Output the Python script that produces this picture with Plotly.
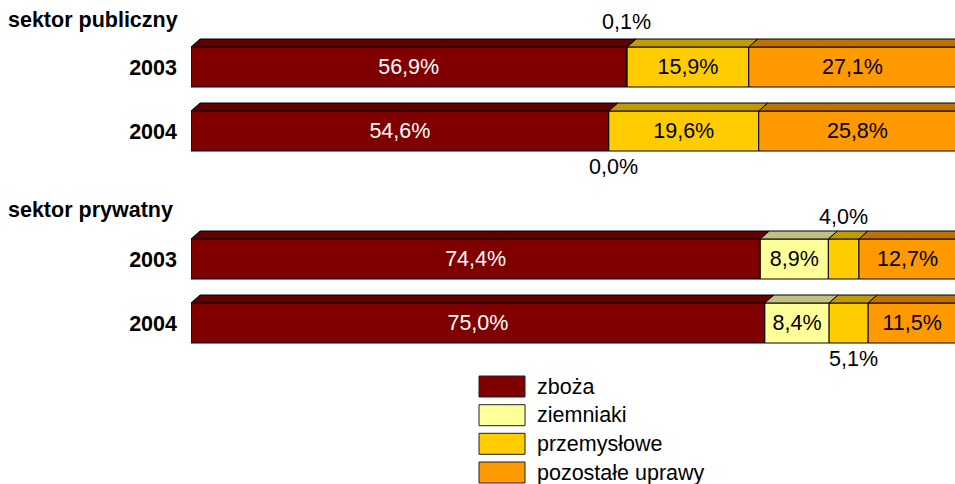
import plotly.graph_objects as go

# ---------------- data ----------------
groups = ["sektor publiczny", "sektor prywatny"]
years = ["2003", "2004", "2003", "2004"]
row_pos = [0, 1, 3, 4]
series_names = ["zboża", "ziemniaki", "przemysłowe", "pozostałe uprawy"]
zboza = [56.9, 54.6, 74.4, 75.0]
ziemniaki = [0.1, 0.0, 8.9, 8.4]
przemyslowe = [15.9, 19.6, 4.0, 5.1]
pozostale = [27.1, 25.8, 12.7, 11.5]

# ---------------- style ----------------
FONT = "Liberation Sans, Arial, sans-serif"
front_colors = ["#800000", "#FFFF99", "#FFCC00", "#FF9900"]
top_colors = ["#600000", "#C0C080", "#C09A00", "#C07200"]
text_colors = ["white", "black", "black", "black"]
BAR_W = 0.625
DX = 1.18   # depth in x units
DY = 0.125  # depth in y units
W, H = 955, 484
L = 191
PX_PER_UNIT = 7.64      # pixels per percent
X_END = (W - L) / PX_PER_UNIT - 0.15
Y0 = 67                 # pixel center of first row
UNIT = 64               # pixels per row unit
FS = 21.5

all_series = [zboza, ziemniaki, przemyslowe, pozostale]

def fmt(v):
    return f"{v:.1f}".replace(".", ",") + "%"

def px_x(p):  # page pixel -> paper x
    return (p - L) / (W - L)

def px_y(p):  # page pixel -> paper y
    return (H - p) / H

fig = go.Figure()
cum = [0.0] * len(row_pos)
annotations = []
for si, vals in enumerate(all_series):
    texts = []
    for j, v in enumerate(vals):
        if v >= 6:
            texts.append(fmt(v))
        else:
            texts.append("")
            xc = cum[j] + v / 2
            if years[j] == "2003":
                off = -0.71 if row_pos[j] == 0 else -0.66
                dxl = 0.0
            else:
                off = 0.56
                dxl = 0.6
            annotations.append(dict(x=xc + dxl, y=row_pos[j] + off, xref="x", yref="y",
                                    text=fmt(v), showarrow=False,
                                    font=dict(family=FONT, size=FS, color="black")))
    fig.add_trace(go.Bar(
        y=row_pos, x=vals, base=cum[:], orientation="h", width=BAR_W,
        marker=dict(color=front_colors[si], line=dict(color="black", width=1)),
        text=texts, textposition="inside", insidetextanchor="middle",
        textangle=0, constraintext="none",
        textfont=dict(family=FONT, size=FS, color=text_colors[si]),
        name=series_names[si], showlegend=False, hoverinfo="skip"))
    # top faces
    xs, ys = [], []
    for j, v in enumerate(vals):
        x0 = cum[j]
        x1 = cum[j] + v
        yt = row_pos[j] - BAR_W / 2
        xs += [x0, x1, x1 + DX, x0 + DX, x0, None]
        ys += [yt, yt, yt - DY, yt - DY, yt, None]
    fig.add_trace(go.Scatter(
        x=xs, y=ys, mode="lines", fill="toself", fillcolor=top_colors[si],
        line=dict(color="black", width=1), showlegend=False, hoverinfo="skip"))
    cum = [c + v for c, v in zip(cum, vals)]

# group labels
group_y = [-0.734, 2.234]
for g, gy in zip(groups, group_y):
    annotations.append(dict(x=px_x(6), y=gy, xref="paper", yref="y",
                            xanchor="left", text=f"<b>{g}</b>", showarrow=False,
                            font=dict(family=FONT, size=FS, color="black")))

# custom legend
shapes = []
box_tops = [376, 404.7, 433.3, 462]
for si, name in enumerate(series_names):
    t = box_tops[si]
    shapes.append(dict(type="rect", xref="paper", yref="paper",
                       x0=px_x(479), x1=px_x(525),
                       y0=px_y(t), y1=px_y(t + 21),
                       fillcolor=front_colors[si], line=dict(color="#202020", width=1)))
    annotations.append(dict(x=px_x(535), y=px_y(t + 10.5),
                            xref="paper", yref="paper", xanchor="left", yanchor="middle",
                            text=name, showarrow=False,
                            font=dict(family=FONT, size=FS, color="black")))

fig.update_layout(
    width=W, height=H,
    margin=dict(l=L, r=0, t=0, b=0),
    barmode="overlay",
    plot_bgcolor="white", paper_bgcolor="white",
    xaxis=dict(range=[0, X_END], visible=False, fixedrange=True),
    yaxis=dict(range=[(H - Y0) / UNIT, -Y0 / UNIT], tickvals=row_pos,
               ticktext=[f"<b>{y}</b>" for y in years], ticks="",
               ticklabelstandoff=13, fixedrange=True,
               showgrid=False, zeroline=False, showline=False,
               tickfont=dict(family=FONT, size=FS, color="black")),
    annotations=annotations, shapes=shapes,
    showlegend=False,
)

fig.write_html("out.html", config={"displayModeBar": False},
               post_script="document.body.style.margin='0';")
